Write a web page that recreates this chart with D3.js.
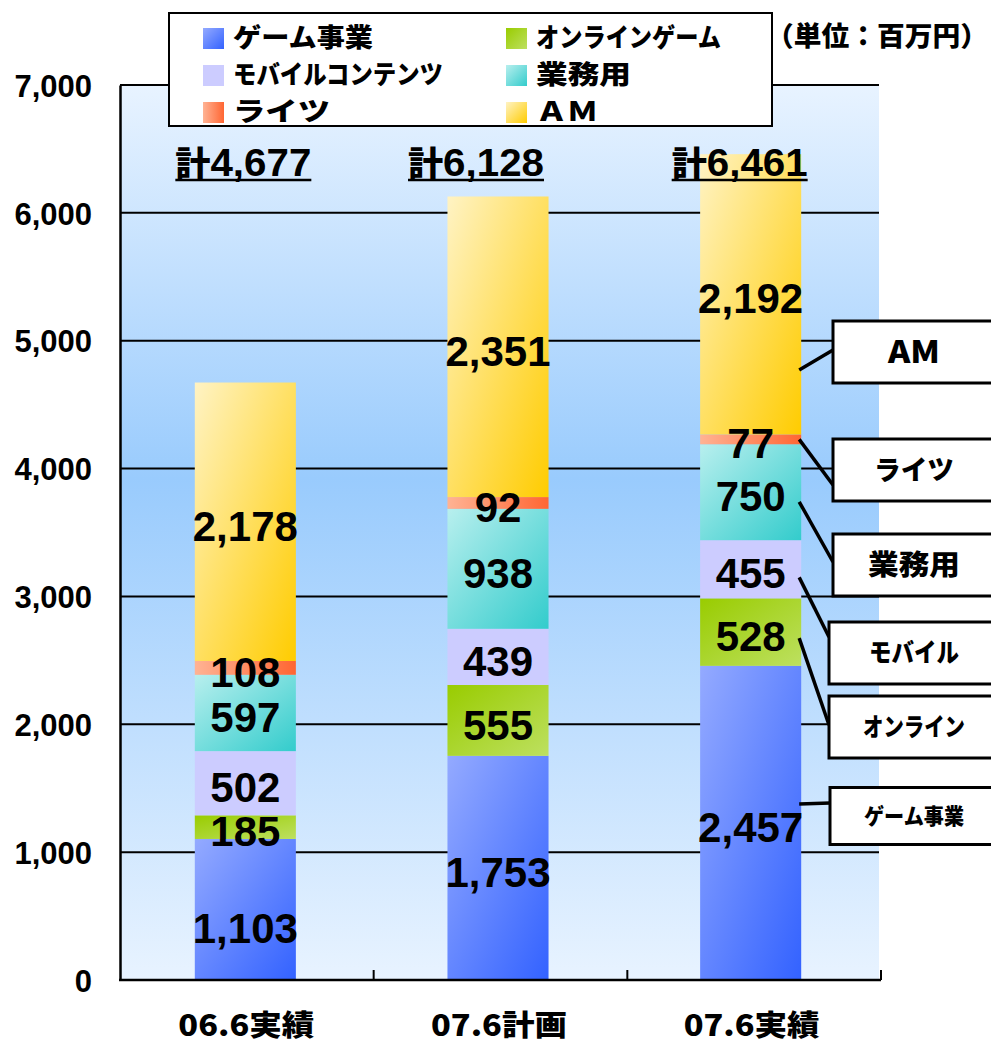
<!DOCTYPE html>
<html><head><meta charset="utf-8">
<script src="https://cdn.jsdelivr.net/npm/d3@7"></script>
<style>
html,body{margin:0;padding:0;background:#fff;}
svg{display:block;}
text{font-family:"Liberation Sans","Noto Sans CJK JP",sans-serif;font-weight:bold;}
.jp{font-family:"Noto Sans CJK JP","Liberation Sans",sans-serif;font-weight:900;}
</style>
</head><body>
<svg id="chart" width="991" height="1043"></svg>
<script>
const categories = ["06.6実績", "07.6計画", "07.6実績"];
const seriesNames = ["ゲーム事業", "オンラインゲーム", "モバイルコンテンツ", "業務用", "ライツ", "ＡＭ"];
const gameValues = [1103, 1753, 2457];
const onlineValues = [185, 555, 528];
const mobileValues = [502, 439, 455];
const arcadeValues = [597, 938, 750];
const rightsValues = [108, 92, 77];
const amValues = [2178, 2351, 2192];
const totals = [4677, 6128, 6461];
const yTicks = [0, 1000, 2000, 3000, 4000, 5000, 6000, 7000];
const calloutLabels = ["ゲーム事業", "オンライン", "モバイル", "業務用", "ライツ", "AM"];
const unitLabel = "（単位：百万円）";

const seriesValues = [gameValues, onlineValues, mobileValues, arcadeValues, rightsValues, amValues];
const seriesColors = [
  ["#94aaff", "#3362ff"],
  ["#99cc00", "#bde060"],
  ["#ccccff", "#ccccff"],
  ["#b8efee", "#33cccc"],
  ["#ffb394", "#ff6633"],
  ["#fff3c4", "#ffcc00"]
];

const svg = d3.select("#chart");
const L = 120, R = 881, T = 85, B = 980;
const x = d3.scaleBand().domain(categories).range([119, 877]).paddingInner(0.6).paddingOuter(0.3);
const y = d3.scaleLinear().domain([0, 7000]).range([B, T]);

const defs = svg.append("defs");
const bg = defs.append("linearGradient").attr("id", "bg").attr("x1", 0).attr("y1", 0).attr("x2", 0).attr("y2", 1);
bg.append("stop").attr("offset", "0").attr("stop-color", "#e8f3ff");
bg.append("stop").attr("offset", "0.44").attr("stop-color", "#99cbfd");
bg.append("stop").attr("offset", "1").attr("stop-color", "#e8f3ff");
seriesColors.forEach((c, i) => {
  const g = defs.append("linearGradient").attr("id", "g" + i).attr("x1", 0).attr("y1", 0).attr("x2", 1).attr("y2", 1);
  g.append("stop").attr("offset", "0").attr("stop-color", c[0]);
  g.append("stop").attr("offset", "1").attr("stop-color", c[1]);
});
defs.select("#g4").attr("x2", 1).attr("y2", 0);

// plot background
svg.append("rect").attr("x", L).attr("y", T).attr("width", R - L - 2).attr("height", B - T).attr("fill", "url(#bg)");

// gridlines
svg.append("g").selectAll("line").data(yTicks.filter(d => d > 0)).join("line")
  .attr("x1", L).attr("x2", R - 2).attr("y1", d => y(d)).attr("y2", d => y(d))
  .attr("stroke", "#000").attr("stroke-width", 2);

// y axis
const yAxis = svg.append("g").attr("transform", `translate(${L},0)`)
  .call(d3.axisLeft(y).tickValues(yTicks).tickFormat(d3.format(",")).tickSize(0).tickPadding(28));
yAxis.select(".domain").attr("stroke", "#000").attr("stroke-width", 2.5);
yAxis.selectAll("text").attr("font-size", 31).attr("fill", "#000").attr("dy", "0.36em");

// stacked data
const stackData = categories.map((c, i) => {
  const o = { cat: c, idx: i };
  seriesValues.forEach((v, k) => o["s" + k] = v[i]);
  return o;
});
const keys = seriesValues.map((v, k) => "s" + k);
const stacked = d3.stack().keys(keys)(stackData);

const barsG = svg.append("g");
stacked.forEach((layer, k) => {
  barsG.append("g").selectAll("rect").data(layer).join("rect")
    .attr("x", d => x(d.data.cat))
    .attr("width", x.bandwidth())
    .attr("y", d => y(d[1]))
    .attr("height", d => y(d[0]) - y(d[1]))
    .attr("fill", `url(#g${k})`);
});

// x axis
const xAxisG = svg.append("g");
xAxisG.append("line").attr("x1", L - 1).attr("x2", R).attr("y1", B).attr("y2", B).attr("stroke", "#000").attr("stroke-width", 2.5);
const tickXs = [1, 2, 3].map(i => L + (R - L) * i / 3);
xAxisG.selectAll(".xt").data(tickXs).join("line").attr("class", "xt")
  .attr("x1", d => d).attr("x2", d => d).attr("y1", B).attr("y2", B - 10)
  .attr("stroke", "#000").attr("stroke-width", 2);
xAxisG.selectAll(".xl").data(categories).join("text").attr("class", "xl jp")
  .attr("x", d => x(d) + x.bandwidth() / 2 + 1).attr("y", 1036)
  .attr("text-anchor", "middle").attr("font-size", 29).attr("fill", "#000")
  .attr("textLength", 136).attr("lengthAdjust", "spacingAndGlyphs")
  .text(d => d);

// segment labels
stacked.forEach((layer, k) => {
  svg.append("g").selectAll("text").data(layer).join("text")
    .attr("x", d => x(d.data.cat) + x.bandwidth() / 2)
    .attr("y", d => (y(d[0]) + y(d[1])) / 2 + ((k === 0 && d.data.idx === 0) ? 18 : 4))
    .attr("dy", "0.36em")
    .attr("text-anchor", "middle")
    .attr("font-size", 42)
    .attr("fill", "#000")
    .text(d => d3.format(",")(d[1] - d[0]));
});

// totals
const totalShift = [-2, -22, -11];
const totG = svg.append("g");
totals.forEach((t, i) => {
  const cx = x(categories[i]) + x.bandwidth() / 2 + totalShift[i];
  const tx = totG.append("text").attr("x", cx).attr("y", 176).attr("text-anchor", "middle")
    .attr("font-size", 39).attr("fill", "#000")
    .attr("textLength", 136).attr("lengthAdjust", "spacingAndGlyphs");
  tx.append("tspan").attr("class", "jp").attr("font-size", 34).text("計");
  tx.append("tspan").text(d3.format(",")(t));
  const bb = tx.node().getBBox();
  totG.append("line").attr("x1", bb.x).attr("x2", bb.x + bb.width).attr("y1", 180).attr("y2", 180)
    .attr("stroke", "#000").attr("stroke-width", 2.5);
});

// legend
const lg = svg.append("g");
lg.append("rect").attr("x", 169).attr("y", 13).attr("width", 603).attr("height", 113)
  .attr("fill", "#fff").attr("stroke", "#000").attr("stroke-width", 2);
const legendWidths = [140, 185, 210, 95, 97, 62];
seriesNames.forEach((name, k) => {
  const col = k % 2, row = Math.floor(k / 2);
  const lx = col === 0 ? 203 : 506;
  const ly = 38 + row * 37;
  lg.append("rect").attr("x", lx).attr("y", ly - 10).attr("width", 21).attr("height", 21).attr("fill", `url(#g${k})`);
  lg.append("text").attr("class", "jp").attr("x", lx + 30).attr("y", ly).attr("dy", "0.36em")
    .attr("font-size", 26).attr("fill", "#000")
    .attr("textLength", legendWidths[k]).attr("lengthAdjust", "spacingAndGlyphs")
    .text(name);
});

// unit label
svg.append("text").attr("class", "jp").attr("x", 988).attr("y", 36).attr("dy", "0.36em")
  .attr("text-anchor", "end").attr("font-size", 27).attr("fill", "#000")
  .attr("textLength", 222).attr("lengthAdjust", "spacingAndGlyphs").text(unitLabel);

// callouts (for the last bar)
const lastCat = categories[2];
const barRight = x(lastCat) + x.bandwidth();
const anchorFrac = [0.56, 0.41, 0.36, 0.4, 0.5, 0.23];
const boxCenters = [816, 727, 653, 565, 470, 352];
const boxHeights = [57, 62, 62, 62, 62, 62];
const boxLeft = [830, 829, 829, 833, 833, 833];
const lineEndY = [803, 725, 637, 562, 485, 350];
const calloutSizes = [22, 25, 26, 28, 27, 31];
const calloutWidths = [100, 102, 90, 92, 80, 52];
const cg = svg.append("g");
stacked.forEach((layer, k) => {
  const d = layer[2];
  const v = d[0] + (d[1] - d[0]) * anchorFrac[k];
  cg.append("line").attr("x1", barRight - 2).attr("y1", y(v)).attr("x2", boxLeft[k]).attr("y2", lineEndY[k])
    .attr("stroke", "#000").attr("stroke-width", 3.5);
  cg.append("rect").attr("x", boxLeft[k]).attr("y", boxCenters[k] - boxHeights[k] / 2)
    .attr("width", 200).attr("height", boxHeights[k])
    .attr("fill", "#fff").attr("stroke", "#000").attr("stroke-width", 3);
  cg.append("text").attr("class", "jp").attr("x", 914).attr("y", boxCenters[k]).attr("dy", "0.36em")
    .attr("text-anchor", "middle").attr("font-size", calloutSizes[k]).attr("fill", "#000")
    .attr("textLength", calloutWidths[k]).attr("lengthAdjust", "spacingAndGlyphs")
    .text(calloutLabels[k]);
});
</script>
</body></html>
